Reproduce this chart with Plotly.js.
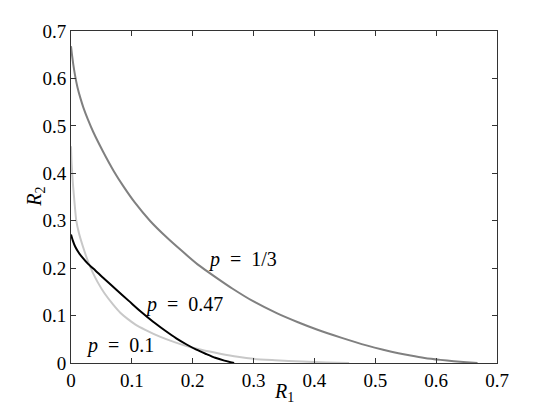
<!DOCTYPE html>
<html>
<head>
<meta charset="utf-8">
<script src="https://cdn.plot.ly/plotly-3.0.1.min.js"></script>
<style>
  body { margin: 0; background: #fff; }
  #chart { width: 549px; height: 409px; }
</style>
</head>
<body>
<div id="chart"></div>
<script>
// p = 1/3 (mid gray)
var r1Third = [0, 0.0016, 0.0038, 0.0066, 0.0107, 0.0156, 0.0205, 0.0279, 0.0366, 0.053, 0.0706, 0.0859, 0.1051, 0.1297, 0.1571, 0.1806, 0.208,
               0.238, 0.265, 0.300, 0.338, 0.373, 0.404, 0.445, 0.487, 0.513, 0.538, 0.558, 0.581, 0.607, 0.629, 0.650, 0.668];
var r2Third = [0.668, 0.650, 0.629, 0.607, 0.581, 0.558, 0.538, 0.513, 0.487, 0.445, 0.404, 0.373, 0.338, 0.300, 0.265, 0.238, 0.208,
               0.1806, 0.1571, 0.1297, 0.1051, 0.0859, 0.0706, 0.053, 0.0366, 0.0279, 0.0205, 0.0156, 0.0107, 0.0066, 0.0038, 0.0016, 0];

// p = 0.47 (black)
var r1p47 = [0, 0.003, 0.007, 0.012, 0.019, 0.028, 0.040, 0.055, 0.075, 0.095, 0.115, 0.135, 0.155, 0.173, 0.190, 0.206, 0.222, 0.237, 0.252, 0.268];
var r2p47 = [0.271, 0.258, 0.245, 0.234, 0.222, 0.209, 0.195, 0.177, 0.154, 0.131, 0.108, 0.087, 0.068, 0.052, 0.039, 0.028, 0.019, 0.011, 0.005, 0];

// p = 0.1 (light gray)
var r1p1 = [0, 0.001, 0.003, 0.006, 0.0087, 0.013, 0.0197, 0.028, 0.036, 0.044, 0.055, 0.070, 0.081, 0.093,
            0.106, 0.122, 0.147, 0.170, 0.190, 0.214, 0.245, 0.274, 0.300, 0.335, 0.380, 0.420, 0.457];
var r2p1 = [0.457, 0.420, 0.380, 0.335, 0.300, 0.274, 0.245, 0.214, 0.190, 0.170, 0.147, 0.122, 0.106, 0.093,
            0.081, 0.070, 0.055, 0.044, 0.036, 0.028, 0.0197, 0.013, 0.0087, 0.006, 0.003, 0.001, 0];

var labels = ['<i>p</i>&nbsp;&nbsp;=&nbsp;&nbsp;1/3', '<i>p</i>&nbsp;&nbsp;=&nbsp;&nbsp;0.47', '<i>p</i>&nbsp;&nbsp;=&nbsp;&nbsp;0.1'];
var labelX = [0.282, 0.185, 0.080];
var labelY = [0.218, 0.123, 0.0375];

var serif = '"Liberation Serif", "Times New Roman", serif';

var data = [
  {x: r1p1, y: r2p1, mode: 'lines', line: {color: '#c8c8c8', width: 2, shape: 'spline', smoothing: 0.6}, hoverinfo: 'skip'},
  {x: r1p47, y: r2p47, mode: 'lines', line: {color: '#000000', width: 2, shape: 'spline', smoothing: 0.6}, hoverinfo: 'skip'},
  {x: r1Third, y: r2Third, mode: 'lines', line: {color: '#808080', width: 2, shape: 'spline', smoothing: 0.6}, hoverinfo: 'skip'}
];

var annotations = labels.map(function (t, i) {
  return {
    x: labelX[i], y: labelY[i], xref: 'x', yref: 'y',
    text: t, showarrow: false, xanchor: 'center', yanchor: 'middle',
    font: {family: serif, size: 20, color: '#000'}
  };
});

// axis titles placed as annotations to match the original spacing
annotations.push({
  x: 0.5, y: -0.09, xref: 'paper', yref: 'paper',
  text: '<i>R</i><sub>1</sub>', showarrow: false, xanchor: 'center', yanchor: 'middle',
  font: {family: serif, size: 20, color: '#000'}
});
annotations.push({
  x: -0.085, y: 0.5, xref: 'paper', yref: 'paper', textangle: -90,
  text: '<i>R</i><sub>2</sub>', showarrow: false, xanchor: 'center', yanchor: 'middle',
  font: {family: serif, size: 20, color: '#000'}
});

var axisStyle = {
  range: [0, 0.7],
  dtick: 0.1,
  tick0: 0,
  ticks: 'inside',
  ticklen: 5,
  tickcolor: '#333',
  showline: true,
  linecolor: '#333',
  linewidth: 1,
  mirror: 'ticks',
  showgrid: false,
  zeroline: false,
  tickfont: {family: serif, size: 19, color: '#000'}
};

var layout = {
  width: 549,
  height: 409,
  margin: {l: 71, r: 52, t: 31, b: 46},
  paper_bgcolor: '#fff',
  plot_bgcolor: '#fff',
  showlegend: false,
  font: {family: serif},
  xaxis: Object.assign({}, axisStyle),
  yaxis: Object.assign({}, axisStyle),
  annotations: annotations
};

Plotly.newPlot('chart', data, layout, {displayModeBar: false, staticPlot: true});
</script>
</body>
</html>
